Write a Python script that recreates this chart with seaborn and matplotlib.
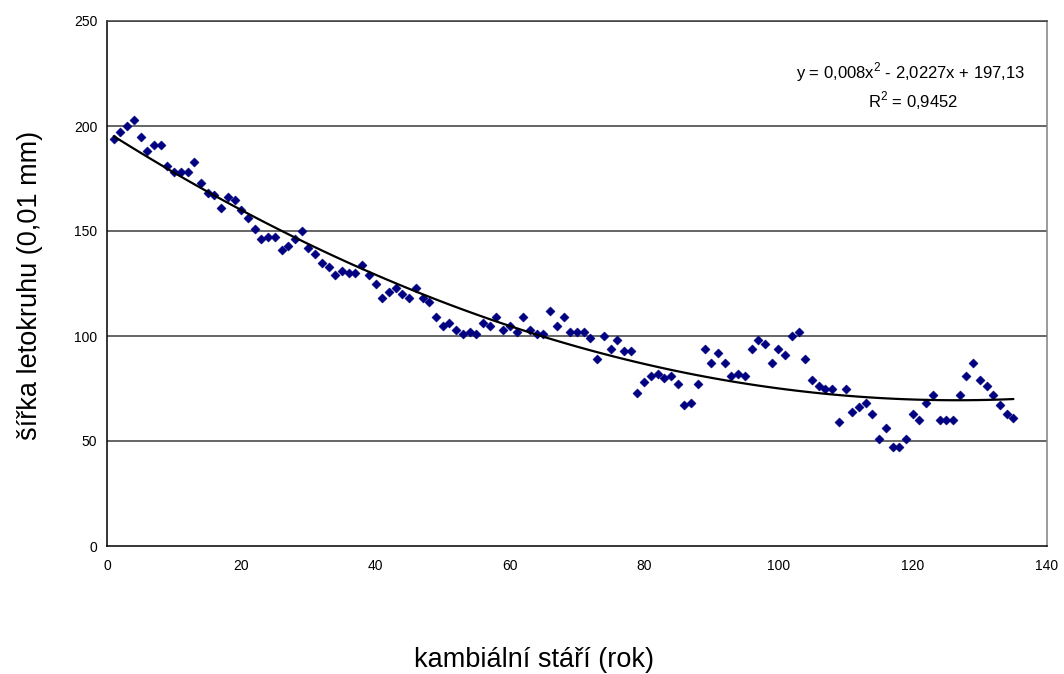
import numpy as np
import pandas as pd
import matplotlib
matplotlib.use("Agg")
import matplotlib.pyplot as plt
import seaborn as sns

# data
years = list(range(1, 136))
widths = [
    194, 197, 200, 203, 195, 188, 191, 191, 181, 178,
    178, 178, 183, 173, 168, 167, 161, 166, 165, 160,
    156, 151, 146, 147, 147, 141, 143, 146, 150, 142,
    139, 135, 133, 129, 131, 130, 130, 134, 129, 125,
    118, 121, 123, 120, 118, 123, 118, 116, 109, 105,
    106, 103, 101, 102, 101, 106, 105, 109, 103, 105,
    102, 109, 103, 101, 101, 112, 105, 109, 102, 102,
    102, 99, 89, 100, 94, 98, 93, 93, 73, 78,
    81, 82, 80, 81, 77, 67, 68, 77, 94, 87,
    92, 87, 81, 82, 81, 94, 98, 96, 87, 94,
    91, 100, 102, 89, 79, 76, 75, 75, 59, 75,
    64, 66, 68, 63, 51, 56, 47, 47, 51, 63,
    60, 68, 72, 60, 60, 60, 72, 81, 87, 79,
    76, 72, 67, 63, 61,
]
x_ticks = [0, 20, 40, 60, 80, 100, 120, 140]
y_ticks = [0, 50, 100, 150, 200, 250]
x_label = "kambiální stáří (rok)"
y_label = "šířka letokruhu (0,01 mm)"
eq_text = "y = 0,008x$^2$ - 2,0227x + 197,13"
r2_text = "R$^2$ = 0,9452"

df = pd.DataFrame({"year": years, "width": widths})

sns.set_style("white")
plt.rcParams["font.family"] = ["Liberation Sans", "DejaVu Sans"]
plt.rcParams["mathtext.fontset"] = "custom"
plt.rcParams["mathtext.rm"] = "Liberation Sans"
plt.rcParams["text.color"] = "black"

W, H = 1064, 674
fig = plt.figure(figsize=(W / 100, H / 100), dpi=100)
fig.patch.set_facecolor("white")
L, R, T, B = 107, 1047, 21, 546
ax = fig.add_axes([L / W, 1 - B / H, (R - L) / W, (B - T) / H])

ax.set_xlim(0, 140)
ax.set_ylim(0, 250)
ax.set_xticks(x_ticks)
ax.set_yticks(y_ticks)

for yv in y_ticks[1:]:
    ax.axhline(yv, color="#3c3c3c", lw=1.1, zorder=1)

sns.scatterplot(data=df, x="year", y="width", marker="D", s=22,
                color="#000080", edgecolor="#000080", linewidth=0.3,
                ax=ax, zorder=3, legend=False)
sns.regplot(data=df, x="year", y="width", order=2, scatter=False, ci=None,
            ax=ax, line_kws=dict(color="black", lw=1.6, zorder=4))

ax.set_xlabel("")
ax.set_ylabel("")
for s in ["left", "bottom"]:
    ax.spines[s].set_color("black")
    ax.spines[s].set_linewidth(1.1)
ax.spines["top"].set_color("#3c3c3c")
ax.spines["right"].set_color("#808080")
ax.spines["top"].set_linewidth(1.1)
ax.spines["right"].set_linewidth(1.1)

ax.tick_params(axis="both", direction="out", length=4, width=1, color="black",
               labelsize=10, labelcolor="black", pad=3)
ax.tick_params(axis="x", pad=5)

fig.text(534 / W, 1 - 660 / H, x_label, ha="center", va="center", fontsize=19.5)
fig.text(30 / W, 1 - 285 / H, y_label, ha="center", va="center",
         rotation=90, fontsize=19.5)

fig.text(911 / W, 1 - 72 / H, eq_text, ha="center", va="center", fontsize=12)
fig.text(913 / W, 1 - 101 / H, r2_text, ha="center", va="center", fontsize=12)

fig.savefig("out.png", dpi=100, facecolor="white")
